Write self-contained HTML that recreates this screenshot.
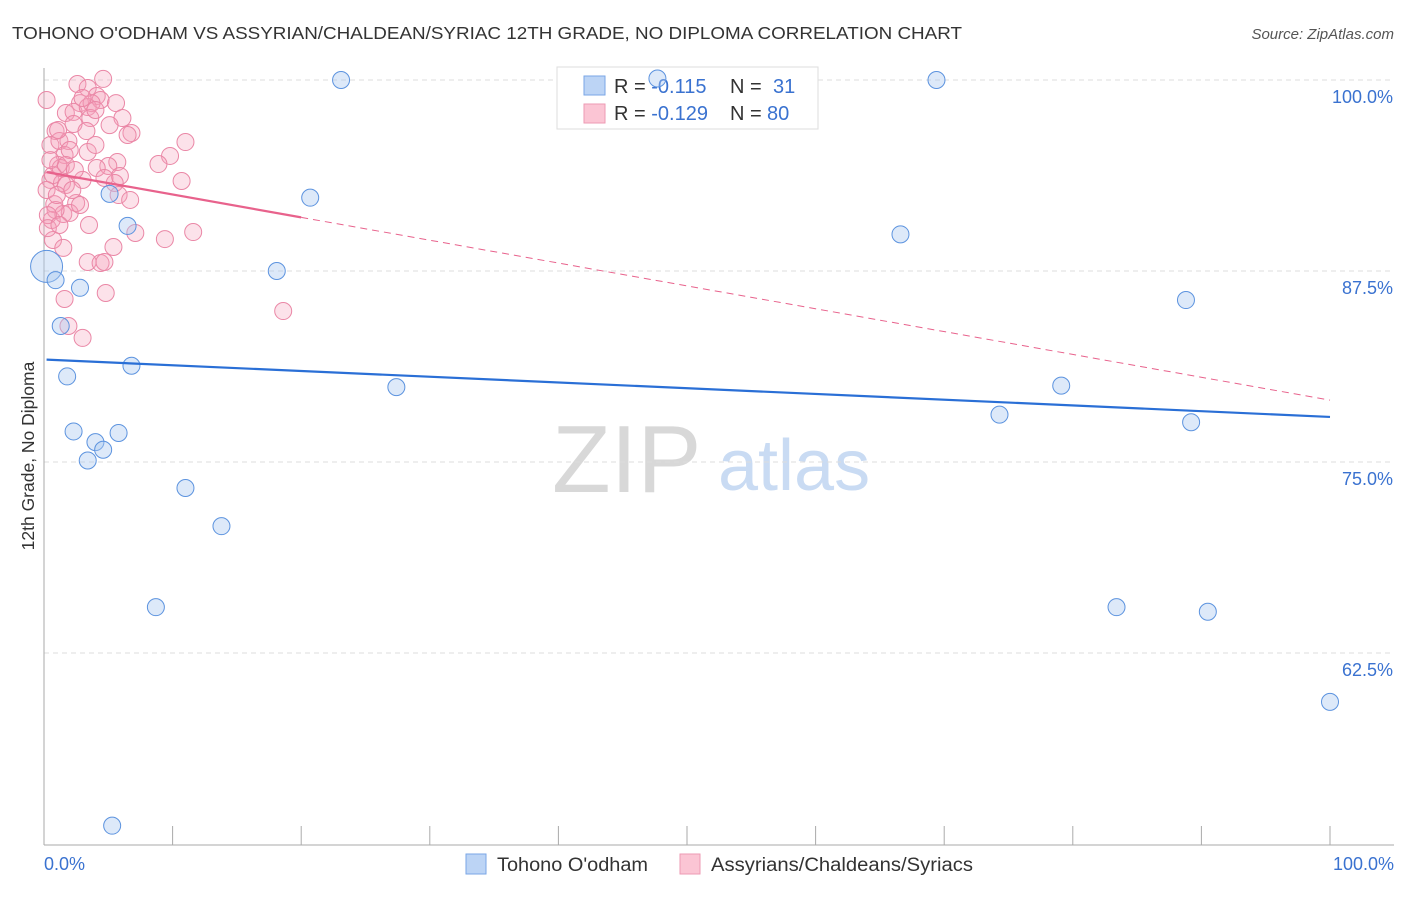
<!DOCTYPE html>
<html><head><meta charset="utf-8"><style>
body{margin:0;background:#fff;font-family:"Liberation Sans",sans-serif}
svg text{font-family:"Liberation Sans",sans-serif}
</style></head><body>
<svg id="chart" width="1406" height="892" viewBox="0 0 1406 892" xmlns="http://www.w3.org/2000/svg">
<text x="12" y="39" font-size="17.5" fill="#333" textLength="950" lengthAdjust="spacingAndGlyphs">TOHONO O'ODHAM VS ASSYRIAN/CHALDEAN/SYRIAC 12TH GRADE, NO DIPLOMA CORRELATION CHART</text>
<text x="1394" y="39" font-size="15" fill="#555" text-anchor="end" font-style="italic">Source: ZipAtlas.com</text>
<g>
<text x="552" y="492" font-size="96" fill="#d8d8d8" font-family="Liberation Serif,serif">ZIP</text>
<text x="718" y="490" font-size="72" fill="#c9dbf3">atlas</text>
</g>
<g id="grid"></g>
<g id="axes"></g>
<text transform="translate(34,456) rotate(-90)" font-size="17.5" fill="#333" text-anchor="middle">12th Grade, No Diploma</text>
<g>
<rect x="557" y="67" width="261" height="62" fill="#fff" stroke="#ddd"/>
<rect x="584" y="76" width="21" height="19" fill="#bcd4f5" stroke="#7aa6e6"/>
<rect x="584" y="104" width="21" height="19" fill="#fbc5d4" stroke="#ee9ab3"/>
<text x="614" y="93" font-size="20" fill="#333">R = <tspan fill="#3a72d0">-0.115</tspan><tspan x="730">N = </tspan><tspan x="773" fill="#3a72d0">31</tspan></text>
<text x="614" y="120" font-size="20" fill="#333">R = <tspan fill="#3a72d0">-0.129</tspan><tspan x="730">N = </tspan><tspan x="767" fill="#3a72d0">80</tspan></text>
</g>
<g id="marks"></g>
<g>
<rect x="466" y="854" width="20" height="20" fill="#bcd4f5" stroke="#7aa6e6"/>
<text x="497" y="871" font-size="19" fill="#333" textLength="151" lengthAdjust="spacingAndGlyphs">Tohono O'odham</text>
<rect x="680" y="854" width="20" height="20" fill="#fbc5d4" stroke="#ee9ab3"/>
<text x="711" y="871" font-size="19" fill="#333" textLength="262" lengthAdjust="spacingAndGlyphs">Assyrians/Chaldeans/Syriacs</text>
</g>
</svg>
<script>
const yTicks=[100,87.5,75,62.5];
const yTickLabels=["100.0%","87.5%","75.0%","62.5%"];
const xEndLabels=["0.0%","100.0%"];
const blueX=[23.1,47.7,69.4,20.7,5.1,6.5,66.6,18.1,0.2,0.9,2.8,88.8,1.3,6.8,1.8,27.4,79.1,74.3,89.2,2.3,5.8,4.0,4.6,3.4,11.0,13.8,8.7,83.4,90.5,100,5.3];
const blueY=[100,100.1,100,92.3,92.55,90.45,89.9,87.5,87.8,86.9,86.4,85.6,83.9,81.3,80.6,79.9,80.0,78.1,77.6,77.0,76.9,76.3,75.8,75.1,73.3,70.8,65.5,65.5,65.2,59.3,51.2];
const pinkPx=[[103,79],[78,84],[88,88],[97,96],[80,103],[100,100],[116,103],[66,113],[74,112],[88,107],[91,103],[122,118],[90,118],[73,124],[87,131],[131,133],[128,135],[56,131],[51,145],[60,141],[69,141],[64,155],[88,152],[95,145],[186,142],[117,162],[170,156],[159,164],[108,166],[58,165],[50,180],[62,183],[53,175],[82,180],[66,185],[120,176],[115,183],[119,195],[181,181],[97,168],[54,204],[76,203],[52,220],[63,214],[70,213],[80,205],[56,210],[48,215],[53,240],[63,248],[135,233],[165,239],[193,232],[114,247],[88,262],[101,263],[104,262],[283,311],[106,293],[64,299],[69,326],[82,338],[47,190],[61,168],[70,150],[95,110],[110,125],[57,195],[72,190],[104,178],[130,200],[48,228],[89,225],[58,130],[83,98],[66,165],[75,170],[50,160],[47,100],[60,225]];
const pinkX=pinkPx.map(p=>+((p[0]-44)/12.86).toFixed(1));
const pinkY=pinkPx.map(p=>+(100-(p[1]-80)*12.5/191).toFixed(2));
const blueTrend=[81.7,77.95];
const pinkTrend=[94.0,79.05];
const pinkSolidEnd=20;
const X=v=>44+v*12.86;
const Y=v=>80+(100-v)*191/12.5;
const NS="http://www.w3.org/2000/svg";
function mk(parent,tag,attrs){const e=document.createElementNS(NS,tag);for(const k in attrs)e.setAttribute(k,attrs[k]);document.getElementById(parent).appendChild(e);return e;}
yTicks.forEach((t,i)=>{
 const g=mk('grid','line',{x1:44,x2:1394,y1:Y(t),y2:Y(t),stroke:'#ddd','stroke-dasharray':'5,4'});
 
 
 const l=mk('axes','text',{x:1393,y:Y(t)+23,'font-size':18,fill:'#3a72d0','text-anchor':'end'});
 l.textContent=yTickLabels[i];
 
 
});
const ax=mk('axes','line',{x1:44,x2:44,y1:68,y2:845,stroke:'#aaa'});


const bx=mk('axes','line',{x1:44,x2:1394,y1:845,y2:845,stroke:'#aaa'});


for(let i=0;i<=10;i++){const t=mk('axes','line',{x1:X(i*10),x2:X(i*10),y1:826,y2:845,stroke:'#aaa'});
 
 }
[[0,'start',44],[100,'end',1394]].forEach((d,i)=>{const t=mk('axes','text',{x:d[2],y:870,'font-size':18,fill:'#3a72d0','text-anchor':d[1]});
 t.textContent=xEndLabels[i];
 
 });
pinkX.forEach((x,i)=>{const c=mk('marks','circle',{cx:X(x),cy:Y(pinkY[i]),r:8.5,fill:'rgba(244,160,186,0.3)',stroke:'#ea87a6','stroke-width':1});
 
 });
blueX.forEach((x,i)=>{const c=mk('marks','circle',{cx:X(x),cy:Y(blueY[i]),r:(i==8?16:8.5),fill:'rgba(170,200,240,0.4)',stroke:'#5c93df','stroke-width':1});
 
 });
const pAt=x=>pinkTrend[0]+(pinkTrend[1]-pinkTrend[0])*x/100;
const pl1=mk('marks','line',{x1:X(0.2),y1:Y(pAt(0.2)),x2:X(pinkSolidEnd),y2:Y(pAt(pinkSolidEnd)),stroke:'#e8628c','stroke-width':2.2});


const pl2=mk('marks','line',{x1:X(pinkSolidEnd),y1:Y(pAt(pinkSolidEnd)),x2:X(100),y2:Y(pinkTrend[1]),stroke:'#e8628c','stroke-width':1,'stroke-dasharray':'7,5'});


const bl=mk('marks','line',{x1:X(0.2),y1:Y(blueTrend[0]),x2:X(100),y2:Y(blueTrend[1]),stroke:'#2a6fd6','stroke-width':2.2});


</script>
</body></html>
